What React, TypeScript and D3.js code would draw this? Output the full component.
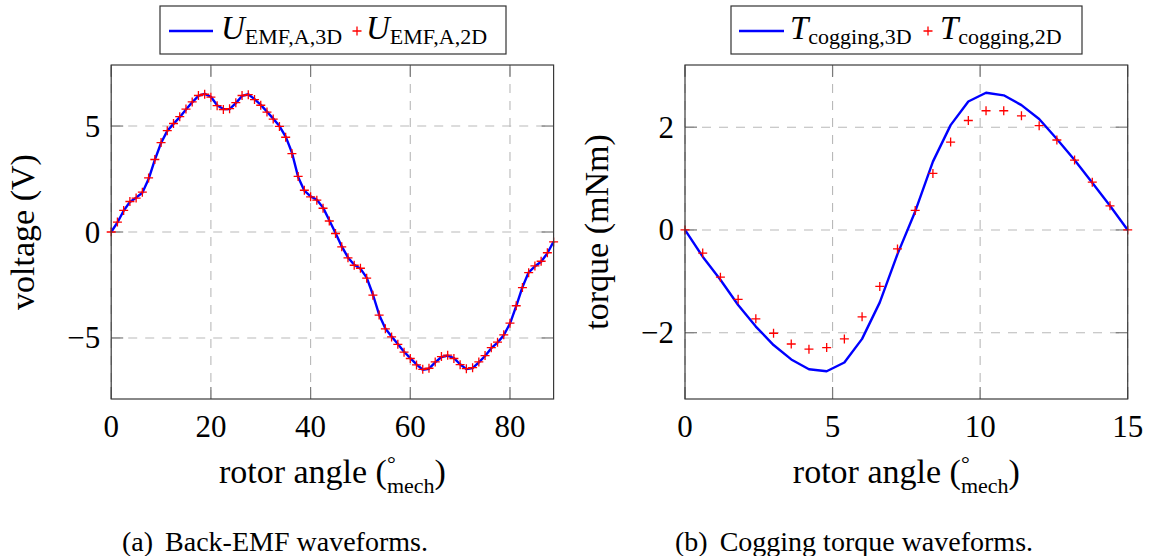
import React from "react";
import * as d3 from "d3";

// ---------- data: back-EMF (left panel) ----------
const emfAngle = [
  0, 1.25, 2.5, 3.75, 5, 6.25, 7.5, 8.75, 10, 11.25, 12.5, 13.75, 15, 16.25, 17.5, 18.75,
  20, 21.25, 22.5, 23.75, 25, 26.25, 27.5, 28.75, 30, 31.25, 32.5, 33.75, 35, 36.25, 37.5, 38.75,
  40, 41.25, 42.5, 43.75, 45, 46.25, 47.5, 48.75, 50, 51.25, 52.5, 53.75, 55, 56.25, 57.5, 58.75,
  60, 61.25, 62.5, 63.75, 65, 66.25, 67.5, 68.75, 70, 71.25, 72.5, 73.75, 75, 76.25, 77.5, 78.75,
  80, 81.25, 82.5, 83.75, 85, 86.25, 87.5, 88.75,
];
const emf3D = [
  0, 0.45, 1.0, 1.42, 1.62, 1.85, 2.5, 3.4, 4.2, 4.77, 5.1, 5.42, 5.78, 6.12, 6.42, 6.52,
  6.38, 5.98, 5.8, 5.8, 6.08, 6.42, 6.5, 6.27, 6.0, 5.68, 5.35, 5.0, 4.5, 3.75, 2.6, 1.95,
  1.68, 1.52, 1.15, 0.55, -0.05, -0.68, -1.2, -1.55, -1.73, -2.15, -2.95, -3.9, -4.55, -4.93, -5.28, -5.65,
  -5.95, -6.25, -6.5, -6.45, -6.15, -5.9, -5.83, -5.95, -6.24, -6.47, -6.42, -6.15, -5.85, -5.48, -5.22, -4.87,
  -4.32, -3.5, -2.6, -1.9, -1.62, -1.4, -1.0, -0.45,
];
const emf2D = [
  0, 0.47, 1.02, 1.44, 1.6, 1.88, 2.55, 3.42, 4.22, 4.78, 5.12, 5.44, 5.8, 6.14, 6.44, 6.5,
  6.36, 5.96, 5.78, 5.82, 6.1, 6.44, 6.48, 6.25, 5.98, 5.66, 5.33, 4.98, 4.47, 3.7, 2.62, 1.97,
  1.66, 1.5, 1.12, 0.52, -0.07, -0.7, -1.22, -1.57, -1.71, -2.18, -2.98, -3.92, -4.57, -4.95, -5.3, -5.67,
  -5.97, -6.27, -6.48, -6.43, -6.13, -5.88, -5.81, -5.97, -6.26, -6.45, -6.4, -6.13, -5.83, -5.46, -5.2, -4.85,
  -4.3, -3.48, -2.62, -1.92, -1.6, -1.38, -0.98, -0.47,
];
const emfXTicks = [0, 20, 40, 60, 80];
const emfYTicks = [-5, 0, 5];

// ---------- data: cogging torque (right panel) ----------
const cogAngle = [
  0, 0.6, 1.2, 1.8, 2.4, 3.0, 3.6, 4.2, 4.8, 5.4, 6.0, 6.6, 7.2, 7.8, 8.4, 9.0,
  9.6, 10.2, 10.8, 11.4, 12.0, 12.6, 13.2, 13.8, 14.4, 15.0,
];
const cog3D = [
  0, -0.52, -0.97, -1.46, -1.88, -2.24, -2.52, -2.71, -2.75, -2.58, -2.12, -1.41, -0.47, 0.36, 1.33, 2.04,
  2.5, 2.67, 2.62, 2.43, 2.16, 1.77, 1.36, 0.92, 0.47, 0,
];
const cog2D = [
  0, -0.45, -0.92, -1.35, -1.73, -2.01, -2.22, -2.32, -2.29, -2.12, -1.69, -1.1, -0.37, 0.38, 1.1, 1.71,
  2.13, 2.32, 2.32, 2.22, 2.03, 1.75, 1.36, 0.93, 0.47, 0,
];
const cogXTicks = [0, 5, 10, 15];
const cogYTicks = [-2, 0, 2];

const FONT = "'Liberation Serif', 'Times New Roman', serif";
const fmt = (v: number) => (v < 0 ? "\u2212" + Math.abs(v) : String(v));

type PanelProps = {
  xRange: [number, number];
  yRange: [number, number];
  xDomain: [number, number];
  yDomain: [number, number];
  xs: number[];
  line: number[];
  marks: number[];
  xTicks: number[];
  yTicks: number[];
  yLabel: string;
  yLabelX: number;
  caption: [string, string];
  captionX: number;
  legend: {
    box: [number, number];
    lineX: [number, number];
    sym: string;
    sub1: string;
    sub2: string;
    text1X: number;
    plusX: number;
    text2X: number;
  };
};

function Panel(p: PanelProps) {
  const x = d3.scaleLinear().domain(p.xDomain).range(p.xRange);
  const y = d3.scaleLinear().domain(p.yDomain).range(p.yRange);
  const [L, R] = p.xRange;
  const [B, T] = p.yRange;
  const lineGen = d3
    .line<number>()
    .x((_, i) => x(p.xs[i]))
    .y((d) => y(d));
  const tickLen = 12;
  const gridStyle = { stroke: "#b9b9b9", strokeWidth: 1.1, strokeDasharray: "9,8" };
  const tickStyle = { stroke: "#7a7a7a", strokeWidth: 1.2 };
  const plus = (cx: number, cy: number, s = 4.5) =>
    `M${cx - s},${cy}H${cx + s}M${cx},${cy - s}V${cy + s}`;
  const cx = (L + R) / 2;
  const lg = p.legend;
  return (
    <g>
      {/* grid */}
      {p.xTicks.map((t) => (
        <line key={"gx" + t} x1={x(t)} x2={x(t)} y1={B} y2={T} style={gridStyle} />
      ))}
      {p.yTicks.map((t) => (
        <line key={"gy" + t} x1={L} x2={R} y1={y(t)} y2={y(t)} style={gridStyle} />
      ))}
      {/* ticks, inside, on all sides */}
      {p.xTicks.map((t) => (
        <g key={"tx" + t}>
          <line x1={x(t)} x2={x(t)} y1={B} y2={B - tickLen} style={tickStyle} />
          <line x1={x(t)} x2={x(t)} y1={T} y2={T + tickLen} style={tickStyle} />
        </g>
      ))}
      {p.yTicks.map((t) => (
        <g key={"ty" + t}>
          <line x1={L} x2={L + tickLen} y1={y(t)} y2={y(t)} style={tickStyle} />
          <line x1={R} x2={R - tickLen} y1={y(t)} y2={y(t)} style={tickStyle} />
        </g>
      ))}
      {/* data */}
      <path d={lineGen(p.line) || ""} fill="none" stroke="#0000ff" strokeWidth={2.4} strokeLinejoin="round" />
      {p.marks.map((v, i) => (
        <path key={"m" + i} d={plus(x(p.xs[i]), y(v))} stroke="#ff0000" strokeWidth={1.3} fill="none" />
      ))}
      {/* frame */}
      <rect x={L} y={T} width={R - L} height={B - T} fill="none" stroke="#3a3a3a" strokeWidth={1.2} />
      {/* tick labels */}
      {p.xTicks.map((t) => (
        <text key={"lx" + t} x={x(t)} y={437} textAnchor="middle" fontFamily={FONT} fontSize={31} fill="#000">
          {fmt(t)}
        </text>
      ))}
      {p.yTicks.map((t) => (
        <text key={"ly" + t} x={L - 11} y={y(t) + 10.5} textAnchor="end" fontFamily={FONT} fontSize={31} fill="#000">
          {fmt(t)}
        </text>
      ))}
      {/* axis labels */}
      <text x={cx} y={483} textAnchor="middle" fontFamily={FONT} fontSize={34} fill="#000">
        rotor angle (
        <tspan fontSize={22} dy={-12}>°</tspan>
        <tspan fontSize={22} dx={-8.8} dy={22}>mech</tspan>
        <tspan dy={-10}>)</tspan>
      </text>
      <text
        transform={`translate(${p.yLabelX},${(T + B) / 2}) rotate(-90)`}
        textAnchor="middle"
        fontFamily={FONT}
        fontSize={34}
        fill="#000"
      >
        {p.yLabel}
      </text>
      {/* caption */}
      <text x={p.captionX} y={551} fontFamily={FONT} fontSize={28} fill="#000">
        {p.caption[0]}
        <tspan dx={12}>{p.caption[1]}</tspan>
      </text>
      {/* legend */}
      <rect x={lg.box[0]} y={6} width={lg.box[1] - lg.box[0]} height={48} fill="#fff" stroke="#333" strokeWidth={1.2} />
      <line x1={lg.lineX[0]} x2={lg.lineX[1]} y1={31} y2={31} stroke="#0000ff" strokeWidth={2.4} />
      <text x={lg.text1X} y={39} fontFamily={FONT} fill="#000">
        <tspan fontStyle="italic" fontSize={33}>{lg.sym}</tspan>
        <tspan fontSize={22} dy={5}>{lg.sub1}</tspan>
      </text>
      <path d={plus(lg.plusX, 31)} stroke="#ff0000" strokeWidth={1.3} fill="none" />
      <text x={lg.text2X} y={39} fontFamily={FONT} fill="#000">
        <tspan fontStyle="italic" fontSize={33}>{lg.sym}</tspan>
        <tspan fontSize={22} dy={5}>{lg.sub2}</tspan>
      </text>
    </g>
  );
}

export default function App() {
  return (
    <svg
      width={1155}
      height={556}
      viewBox="0 0 1155 556"
      style={{ position: "absolute", left: 0, top: 0, background: "#fff", display: "block" }}
    >
      <rect x={0} y={0} width={1155} height={556} fill="#fff" />
      <Panel
        xRange={[111.2, 553.6]}
        yRange={[399, 65]}
        xDomain={[0, 88.75]}
        yDomain={[-7.88, 7.88]}
        xs={emfAngle}
        line={emf3D}
        marks={emf2D}
        xTicks={emfXTicks}
        yTicks={emfYTicks}
        yLabel="voltage (V)"
        yLabelX={34}
        caption={["(a)", "Back-EMF waveforms."]}
        captionX={122}
        legend={{
          box: [160, 506],
          lineX: [169, 213],
          sym: "U",
          sub1: "EMF,A,3D",
          sub2: "EMF,A,2D",
          text1X: 221,
          plusX: 357,
          text2X: 366,
        }}
      />
      <Panel
        xRange={[685, 1127.7]}
        yRange={[399, 65]}
        xDomain={[0, 15]}
        yDomain={[-3.29, 3.21]}
        xs={cogAngle}
        line={cog3D}
        marks={cog2D}
        xTicks={cogXTicks}
        yTicks={cogYTicks}
        yLabel="torque (mNm)"
        yLabelX={608}
        caption={["(b)", "Cogging torque waveforms."]}
        captionX={675}
        legend={{
          box: [731, 1082],
          lineX: [739, 784],
          sym: "T",
          sub1: "cogging,3D",
          sub2: "cogging,2D",
          text1X: 790,
          plusX: 928,
          text2X: 940,
        }}
      />
    </svg>
  );
}
